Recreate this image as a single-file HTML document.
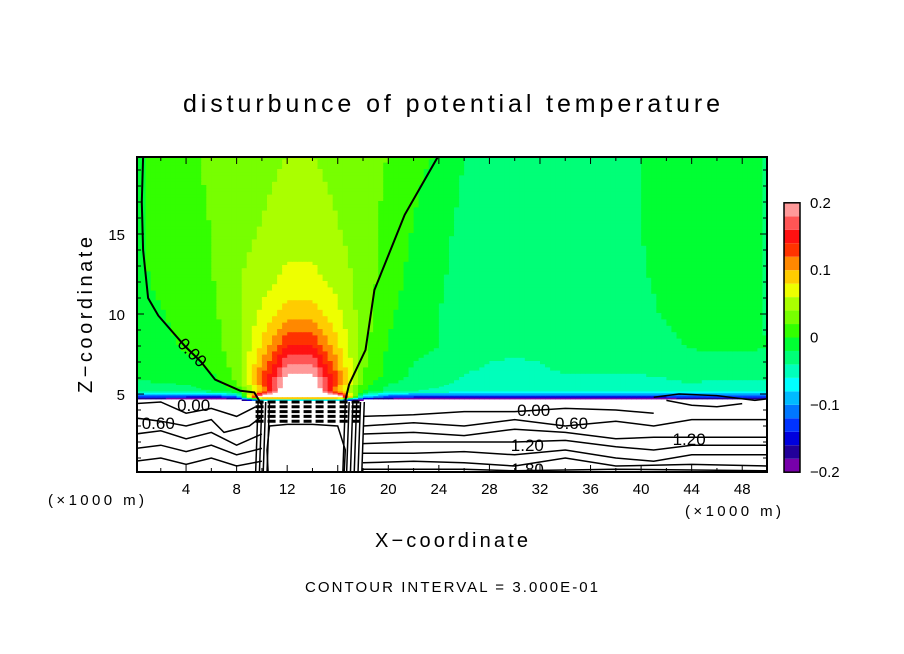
<!DOCTYPE html>
<html><head><meta charset="utf-8"><style>
body{margin:0;background:#fff;width:904px;height:654px;overflow:hidden}
svg{display:block}
text{font-family:"Liberation Sans",sans-serif;fill:#000}
</style></head><body>
<svg id="chart" width="904" height="654" viewBox="0 0 904 654">
<defs><clipPath id="pc"><rect x="137" y="157" width="630" height="315"/></clipPath></defs>
<rect width="904" height="654" fill="#fff"/>
<text x="183" y="112" font-size="25" textLength="537" lengthAdjust="spacing">disturbunce of potential temperature</text>
<g id="field" clip-path="url(#pc)"></g>
<g id="lines" clip-path="url(#pc)"></g>
<rect x="137" y="157" width="630" height="315" fill="none" stroke="#000" stroke-width="2"/>
<g id="axes"></g>
<g id="cbar"></g>
<text x="92" y="393" font-size="20" textLength="156" lengthAdjust="spacing" transform="rotate(-90 92 393)">Z−coordinate</text>
<text x="375" y="547" font-size="20" textLength="153" lengthAdjust="spacing">X−coordinate</text>
<text x="48" y="505" font-size="15" textLength="96" lengthAdjust="spacing">(×1000 m)</text>
<text x="685" y="516" font-size="15" textLength="96" lengthAdjust="spacing">(×1000 m)</text>
<text x="305" y="592" font-size="15" textLength="293" lengthAdjust="spacing">CONTOUR INTERVAL = 3.000E-01</text>
</svg>
<script>
const xs=[0,2,4,6,8,10,12,14,16,18,20,22,24,26,28,30,32,34,36,38,40,42,44,46,48,50];
const zs=[4.5,4.85,5.2,6,7,8,10,12,15,18,20];
const W=-0.3;
const field=[
xs.map(()=>W),
[-0.13,-0.13,-0.14,-0.15,-0.12,0.25,0.25,0.25,0.25,-0.08,-0.13,-0.14,-0.14,-0.14,-0.14,-0.14,-0.14,-0.14,-0.14,-0.14,-0.14,-0.14,-0.12,-0.12,-0.12,-0.12],
[-0.03,-0.03,-0.03,-0.02,0.0,0.1,0.25,0.25,0.1,0.0,-0.03,-0.04,-0.045,-0.05,-0.05,-0.05,-0.05,-0.05,-0.05,-0.05,-0.05,-0.05,-0.05,-0.06,-0.06,-0.06],
[-0.02,-0.015,-0.01,-0.005,0.025,0.12,0.21,0.21,0.12,0.02,-0.01,-0.025,-0.03,-0.042,-0.045,-0.048,-0.045,-0.042,-0.042,-0.042,-0.042,-0.04,-0.035,-0.035,-0.035,-0.035],
[-0.015,-0.01,-0.005,0.005,0.03,0.1,0.175,0.175,0.1,0.025,-0.005,-0.02,-0.025,-0.035,-0.04,-0.043,-0.04,-0.035,-0.035,-0.035,-0.035,-0.03,-0.03,-0.03,-0.03,-0.03],
[-0.012,-0.008,0.003,0.012,0.03,0.085,0.14,0.14,0.085,0.027,-0.002,-0.015,-0.02,-0.03,-0.032,-0.033,-0.032,-0.03,-0.03,-0.03,-0.028,-0.025,-0.018,-0.015,-0.015,-0.02],
[-0.01,-0.002,0.01,0.015,0.033,0.065,0.09,0.09,0.065,0.03,0.004,-0.012,-0.02,-0.028,-0.03,-0.03,-0.03,-0.03,-0.03,-0.03,-0.025,-0.018,-0.012,-0.012,-0.012,-0.022],
[-0.006,0.005,0.012,0.018,0.038,0.052,0.066,0.066,0.054,0.03,0.01,-0.008,-0.018,-0.026,-0.028,-0.028,-0.028,-0.028,-0.028,-0.028,-0.022,-0.016,-0.012,-0.012,-0.012,-0.022],
[-0.004,0.008,0.014,0.02,0.032,0.042,0.052,0.052,0.042,0.028,0.015,-0.002,-0.015,-0.025,-0.028,-0.028,-0.028,-0.028,-0.028,-0.026,-0.02,-0.015,-0.012,-0.012,-0.012,-0.022],
[-0.005,0.01,0.015,0.022,0.03,0.036,0.046,0.046,0.036,0.026,0.018,0.004,-0.01,-0.022,-0.026,-0.026,-0.026,-0.026,-0.026,-0.024,-0.02,-0.015,-0.012,-0.012,-0.012,-0.022],
[-0.008,0.01,0.015,0.024,0.028,0.03,0.04,0.04,0.03,0.024,0.02,0.008,-0.002,-0.02,-0.025,-0.025,-0.025,-0.025,-0.025,-0.024,-0.02,-0.015,-0.012,-0.012,-0.012,-0.022]
];
const levels=[-0.2,-0.18,-0.16,-0.14,-0.12,-0.1,-0.08,-0.06,-0.04,-0.02,0,0.02,0.04,0.06,0.08,0.1,0.12,0.14,0.16,0.18,0.2];
const cbarTicks=[0.2,0.1,0,-0.1,-0.2];
const xTicks=[4,8,12,16,20,24,28,32,36,40,44,48];
const zTicks=[5,10,15];
const leftZero=[[0.6,19.8],[0.5,17],[0.6,14],[1.0,11],[1.8,9.9],[3.9,8],[5.2,7],[6.3,5.9],[8.3,5.2],[9.4,5.1],[10,4.3]];
const rightZero=[[23.9,19.8],[21.3,16.2],[18.9,11.5],[18.2,7.75],[16.9,5.6],[16.6,4.6]];
const lowLines=[
[[18,3.6],[22,3.7],[26,3.9],[30,3.9],[34,4.1],[38,4.0],[41,3.8]],
[[18,3.0],[22,3.2],[26,3.0],[30,3.4],[34,3.0],[38,3.3],[41,3.0],[44,3.4],[50,3.4]],
[[18,2.5],[22,2.6],[26,2.4],[30,2.8],[34,2.6],[38,2.2],[41,2.3],[44,2.3],[50,2.3]],
[[18,1.9],[22,2.0],[26,2.0],[30,2.0],[34,2.1],[38,1.7],[41,1.5],[44,1.8],[50,1.8]],
[[18,1.3],[22,1.3],[26,1.4],[30,1.2],[34,1.5],[38,1.0],[41,0.8],[44,1.2],[50,1.2]],
[[18,0.7],[22,0.8],[26,0.7],[30,0.5],[34,1.0],[38,0.5],[44,0.6],[50,0.5]],
[[18,0.3],[26,0.3],[30,0.2],[38,0.3],[50,0.2]],
[[0,4.4],[2,4.5],[4,3.8],[6,4.1],[8,3.6],[9.5,4.2]],
[[0,3.5],[2,3.3],[4,3.0],[6,3.4],[7,2.6],[9,3.0],[10,3.6]],
[[0,2.5],[2,2.7],[4,2.2],[6,2.6],[8,1.8],[10,2.5]],
[[0,1.6],[2,1.8],[4,1.4],[6,1.8],[8,1.2],[10,1.6]],
[[0,0.8],[2,1.0],[4,0.6],[6,1.0],[8,0.5],[10,0.8]],
[[41,4.8],[43,5.0],[46,4.9],[49,4.6],[50,4.7]],
[[42,4.6],[44,4.3],[46,4.2],[48,4.4]],
[[10.5,0],[10.4,1.5],[10.6,3.0],[12,3.1],[14,3.1],[16,3.0],[16.6,1.5],[16.5,0]]
];
const dashRows=[3.3,3.6,3.9,4.2,4.5];
const labels=[["0.00",4.6,4.3],["0.60",1.8,3.2],["0.00",31.5,4.0],["0.60",34.5,3.2],["1.20",31,1.8],["1.20",43.8,2.2],["1.80",31,0.3]];

const X=x=>135.5+x*12.64, Z=z=>474-z*16;
const NS='http://www.w3.org/2000/svg';
function el(t,a,p){const e=document.createElementNS(NS,t);for(const k in a)e.setAttribute(k,a[k]);p.appendChild(e);return e;}
const colors=['#7700aa','#220099','#0000dd','#0033ff','#0077ff','#00bbff','#00ffff','#00ffbb','#00ff77','#00ff33','#33ff00','#77ff00','#aaff00','#eeff00','#ffcc00','#ff8800','#ff3300','#ff1111','#ff5555','#ff9999'];
function col(v){if(v<levels[0]||v>levels[levels.length-1])return '#ffffff';for(let i=0;i<colors.length;i++)if(v<=levels[i+1])return colors[i];return '#fff';}
function seg(arr,v){for(let i=0;i<arr.length-1;i++)if(v<=arr[i+1])return i;return arr.length-2;}
function val(x,z){const i=seg(xs,x),j=seg(zs,z);const tx=Math.max(0,Math.min(1,(x-xs[i])/(xs[i+1]-xs[i]))),tz=Math.max(0,Math.min(1,(z-zs[j])/(zs[j+1]-zs[j])));
const a=field[j][i],b=field[j][i+1],c=field[j+1][i],d=field[j+1][i+1];return (a*(1-tx)+b*tx)*(1-tz)+(c*(1-tx)+d*tx)*tz;}
const F=document.getElementById('field');
el('rect',{x:137,y:157,width:630,height:315,fill:'#fff'},F);
const dx=0.4;
for(let z=4.5;z<19.85;){const dz=z<5.6?0.1:0.2;
 for(let x=0;x<50;x+=dx){const v=val(x+dx/2,Math.min(z+dz/2,19.8));const c=col(v);if(c==='#ffffff')continue;
  const r=el('rect',{x:X(x).toFixed(1),y:Math.max(157,Z(z+dz)).toFixed(1),width:(dx*12.64+0.6).toFixed(1),height:(Math.min(Z(z),472)-Math.max(157,Z(z+dz))+0.6).toFixed(1),fill:c},F);
  
  }
 z+=dz;}
const L=document.getElementById('lines');
const pts=a=>a.map(p=>X(p[0]).toFixed(1)+','+Z(p[1]).toFixed(1)).join(' ');
[leftZero,rightZero].forEach(a=>{const p=el('polyline',{points:pts(a),fill:'none',stroke:'#000','stroke-width':2},L);
 
 });
lowLines.forEach(a=>{const p=el('polyline',{points:pts(a),fill:'none',stroke:'#000','stroke-width':1.5},L);
 
 });
dashRows.forEach(z=>{const p=el('line',{x1:X(9.5),x2:X(18),y1:Z(z),y2:Z(z),stroke:'#000','stroke-width':3,'stroke-dasharray':'8 4'},L);
 
 });
[[9.5,10.7],[16.4,18]].forEach(r=>{for(let x=r[0];x<=r[1];x+=0.3){const p=el('line',{x1:X(x),x2:X(x+0.2),y1:Z(0),y2:Z(4.5),stroke:'#000','stroke-width':1.5},L);
 
 }});
labels.forEach(l=>{const t=el('text',{x:X(l[1]),y:Z(l[2])+6,'font-size':17,'text-anchor':'middle'},L);t.textContent=l[0];
 
 });
{const t=el('text',{x:X(4.5),y:Z(7.6)+6,'font-size':17,'text-anchor':'middle',transform:`rotate(45 ${X(4.5)} ${Z(7.6)})`},L);t.textContent='0.00';
 
 }
const A=document.getElementById('axes');
for(let x=2;x<50;x+=2){el('line',{x1:X(x),x2:X(x),y1:472,y2:x%4===0?465:468,stroke:'#000'},A);el('line',{x1:X(x),x2:X(x),y1:157,y2:x%4===0?164:161,stroke:'#000'},A);}
for(let z=1;z<20;z++){const m=z%5===0;el('line',{x1:137,x2:m?144:141,y1:Z(z),y2:Z(z),stroke:'#000'},A);el('line',{x1:767,x2:m?760:763,y1:Z(z),y2:Z(z),stroke:'#000'},A);}
xTicks.forEach(x=>{const t=el('text',{x:X(x),y:494,'font-size':15,'text-anchor':'middle'},A);t.textContent=x;
 
 });
zTicks.forEach(z=>{const t=el('text',{x:125,y:Z(z)+6,'font-size':15,'text-anchor':'end'},A);t.textContent=z;
 
 });
const C=document.getElementById('cbar');
const cy=v=>337.5-v*673.5;
for(let i=0;i<colors.length;i++){const r=el('rect',{x:784,y:cy(levels[i+1]),width:16,height:cy(levels[i])-cy(levels[i+1]),fill:colors[i]},C);
 
 }
el('rect',{x:784,y:cy(0.2),width:16,height:cy(-0.2)-cy(0.2),fill:'none',stroke:'#000','stroke-width':1.5},C);
cbarTicks.forEach(v=>{const t=el('text',{x:810,y:cy(v)+5,'font-size':15},C);t.textContent=v===0?'0':(v<0?'−'+Math.abs(v):String(v));
 
 });
</script>
</body></html>
